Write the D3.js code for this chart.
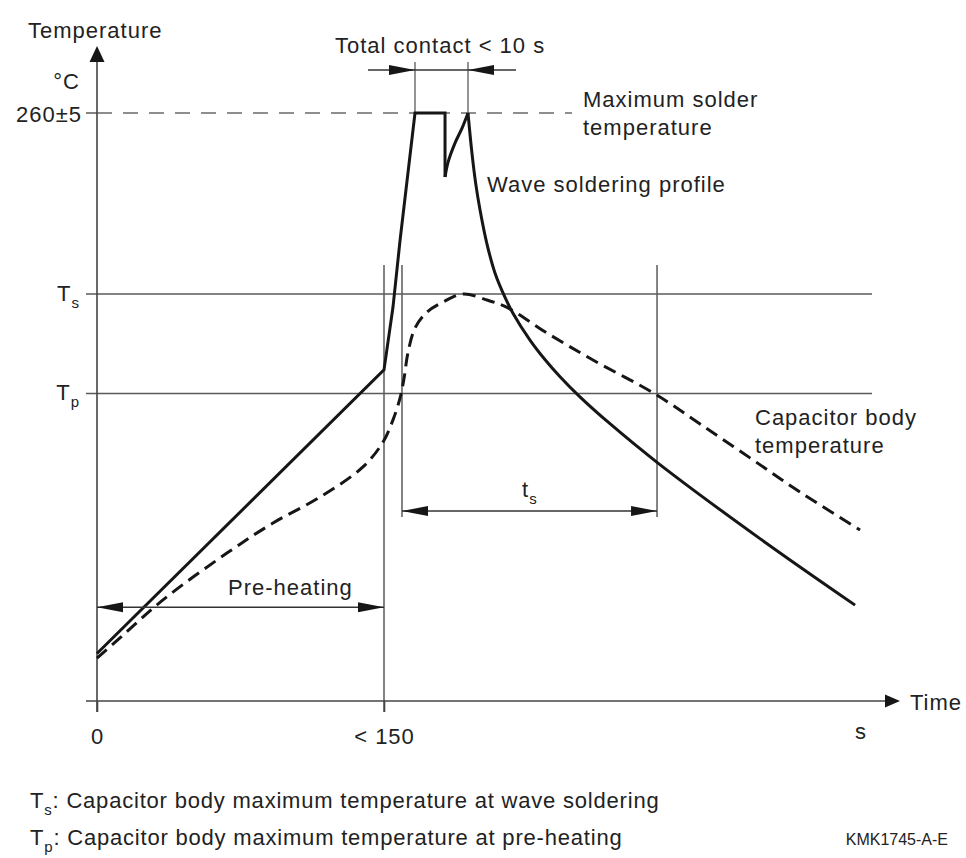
<!DOCTYPE html>
<html>
<head>
<meta charset="utf-8">
<script src="https://cdn.jsdelivr.net/npm/d3@7"></script>
<style>
body { margin: 0; background: #fff; }
svg text { font-family: "Liberation Sans", Arial, Helvetica, sans-serif; fill: #222; }
</style>
</head>
<body>
<script>
// values: time in s, temperature in °C
const waveRamp = [[0, 21], [150, 146.4], [154.7, 174.2], [158.4, 203.8], [166.2, 260], [181.9, 260], [181.9, 231.7]]
const waveRecover = [[181.9, 231.7], [183.5, 238.3], [187.1, 246.7], [190.8, 253.3], [193.9, 260]]
const waveCool = [[193.9, 260], [195.8, 243.6], [197.9, 229], [200.2, 217.1], [203.7, 202.5], [208, 189.3],
    [213.2, 178.6], [217.4, 171.5], [226.3, 159.6], [234.1, 151], [242, 143.4], [252.4, 134.5],
    [268.1, 122.6], [293.2, 105.2], [346.5, 71.8], [396.2, 42.4]]
const bodyTemp = [[0, 19], [12, 27.9], [34.5, 44.7], [67.9, 65.4], [92, 78.7], [116.6, 90.2], [139, 103.5],
    [149.5, 114.5], [154.7, 124.3], [158.4, 134], [160.5, 142.8], [162.5, 153.9], [166.2, 164.9],
    [172.5, 172], [180.8, 176.4], [191.3, 180], [203.8, 177.3], [214.8, 173.8], [235.2, 162.7],
    [259.2, 150.8], [291.6, 135.8], [315.2, 122.5], [341.3, 107.5], [367.4, 92.4], [398.8, 75.6]]

const tMax = 260
const tS = 180
const tP = 136
const preheatEnd = 150
const contactStart = 166.2
const contactEnd = 193.9
const tsStart = 159.4
const tsEnd = 292.7
const xTickValues = [0, 150]
const xTickLabels = ["0", "< 150"]

const width = 966
const height = 858

const x = d3.scaleLinear().domain([0, 150]).range([97, 384])
const y = d3.scaleLinear().domain([0, 260]).range([701, 113])

const svg = d3.select("body")
    .append("svg")
    .attr("width", width)
    .attr("height", height)

const grey = "#5a5a5a"
const ink = "#161616"

function arrow(tipX, tipY, dir, len, half, color) {
    // dir: "l", "r", "u"
    let pts
    if (dir == "r") pts = [[tipX, tipY], [tipX - len, tipY - half], [tipX - len, tipY + half]]
    else if (dir == "l") pts = [[tipX, tipY], [tipX + len, tipY - half], [tipX + len, tipY + half]]
    else pts = [[tipX, tipY], [tipX - half, tipY + len], [tipX + half, tipY + len]]
    svg.append("polygon")
        .attr("points", pts.map(p => p.join(",")).join(" "))
        .attr("fill", color)
}

function hline(x1, x2, yy, color, w, dash) {
    svg.append("line")
        .attr("x1", x1).attr("x2", x2)
        .attr("y1", yy).attr("y2", yy)
        .attr("stroke", color)
        .attr("stroke-width", w)
        .attr("stroke-dasharray", dash || null)
}

function vline(xx, y1, y2, color, w) {
    svg.append("line")
        .attr("x1", xx).attr("x2", xx)
        .attr("y1", y1).attr("y2", y2)
        .attr("stroke", color)
        .attr("stroke-width", w)
}

// reference lines Ts / Tp and maximum temperature
hline(86, 872, y(tS), grey, 1.5)
hline(86, 872, y(tP), grey, 1.5)
hline(86, x(0), y(tMax), grey, 1.5)
hline(x(0), 572, y(tMax), "#6a6a6a", 1.5, "15,11")

// vertical guide lines
vline(x(preheatEnd), y(192.8), y(-4.9), grey, 1.5)
vline(x(tsStart), y(192.8), y(81.4), grey, 1.5)
vline(x(tsEnd), y(192.8), y(81.4), grey, 1.5)
vline(x(contactStart), y(282.6), y(tMax), grey, 1.3)
vline(x(contactEnd), y(282.6), y(tMax), grey, 1.3)

// axes
vline(x(0), y(-4.9), 62, "#444", 1.6)
arrow(x(0), 46, "u", 16, 7.5, ink)
hline(86, 886, y(0), "#444", 1.6)
arrow(900, y(0), "r", 15, 6.5, ink)

const xAxis = d3.axisBottom(x)
    .tickValues(xTickValues)
    .tickFormat((d, i) => xTickLabels[i])
    .tickSize(11)
    .tickPadding(16)
const gx = svg.append("g")
    .attr("transform", `translate(0,${y(0)})`)
    .call(xAxis)
gx.select(".domain").remove()
gx.selectAll(".tick line").attr("stroke", "#444").attr("stroke-width", 1.6)
gx.selectAll(".tick text")
    .attr("font-size", 22)
    .attr("letter-spacing", 1)
    .attr("fill", "#222")
    .attr("font-family", "Liberation Sans, Arial, sans-serif")

// curves
const line = d3.line().x(d => x(d[0])).y(d => y(d[1]))
const smooth = d3.line().x(d => x(d[0])).y(d => y(d[1])).curve(d3.curveCatmullRom.alpha(0.5))

svg.append("path").datum(bodyTemp)
    .attr("d", smooth)
    .attr("fill", "none")
    .attr("stroke", ink)
    .attr("stroke-width", 3)
    .attr("stroke-dasharray", "13,7")

svg.append("path").datum(waveRamp)
    .attr("d", line)
    .attr("fill", "none")
    .attr("stroke", ink)
    .attr("stroke-width", 3)
    .attr("stroke-linejoin", "miter")

svg.append("path").datum(waveRecover)
    .attr("d", smooth)
    .attr("fill", "none")
    .attr("stroke", ink)
    .attr("stroke-width", 3)

svg.append("path").datum(waveCool)
    .attr("d", smooth)
    .attr("fill", "none")
    .attr("stroke", ink)
    .attr("stroke-width", 3)

// dimension arrows
const yPre = y(41.5)
hline(x(0), x(preheatEnd), yPre, "#333", 1.5)
arrow(x(0), yPre, "l", 26, 5, ink)
arrow(x(preheatEnd), yPre, "r", 26, 5, ink)

const yTs = y(84)
hline(x(tsStart), x(tsEnd), yTs, "#333", 1.5)
arrow(x(tsStart), yTs, "l", 26, 5, ink)
arrow(x(tsEnd), yTs, "r", 26, 5, ink)

const yContact = y(279)
hline(368, 516, yContact, "#333", 1.5)
arrow(x(contactStart), yContact, "r", 26, 5, ink)
arrow(x(contactEnd), yContact, "l", 26, 5, ink)

// texts
function label(tx, ty, str, anchor, size) {
    return svg.append("text")
        .attr("x", tx).attr("y", ty)
        .attr("text-anchor", anchor || "start")
        .attr("font-size", size || 22)
        .attr("letter-spacing", size ? 0 : 1)
        .text(str)
}

label(28, 38, "Temperature")
label(80, 89, "°C", "end")
label(82, 122, "260±5", "end")
label(910, 710, "Time")
label(855, 739, "s")
label(335, 53, "Total contact < 10 s")
label(583, 107, "Maximum solder")
label(583, 135, "temperature")
label(487, 192, "Wave soldering profile")
label(755, 425, "Capacitor body")
label(755, 453, "temperature")
label(228, 595, "Pre-heating")

function subLabel(tx, ty, main, sub, rest, anchor, spacing) {
    const t = svg.append("text")
        .attr("x", tx).attr("y", ty)
        .attr("text-anchor", anchor || "start")
        .attr("font-size", 22)
        .attr("letter-spacing", spacing == null ? 1 : spacing)
    t.append("tspan").text(main)
    t.append("tspan").attr("font-size", 15).attr("dy", 7).text(sub)
    if (rest) t.append("tspan").attr("dy", -7).text(rest)
    return t
}

subLabel(80, y(tS) + 7, "T", "s", null, "end")
subLabel(80, y(tP) + 7, "T", "p", null, "end")
subLabel(522, 497, "t", "s")

subLabel(30, 808, "T", "s", ": Capacitor body maximum temperature at wave soldering", "start", 0.8)
subLabel(30, 845, "T", "p", ": Capacitor body maximum temperature at pre-heating", "start", 0.8)
label(948, 845, "KMK1745-A-E", "end", 16)
</script>
</body>
</html>
